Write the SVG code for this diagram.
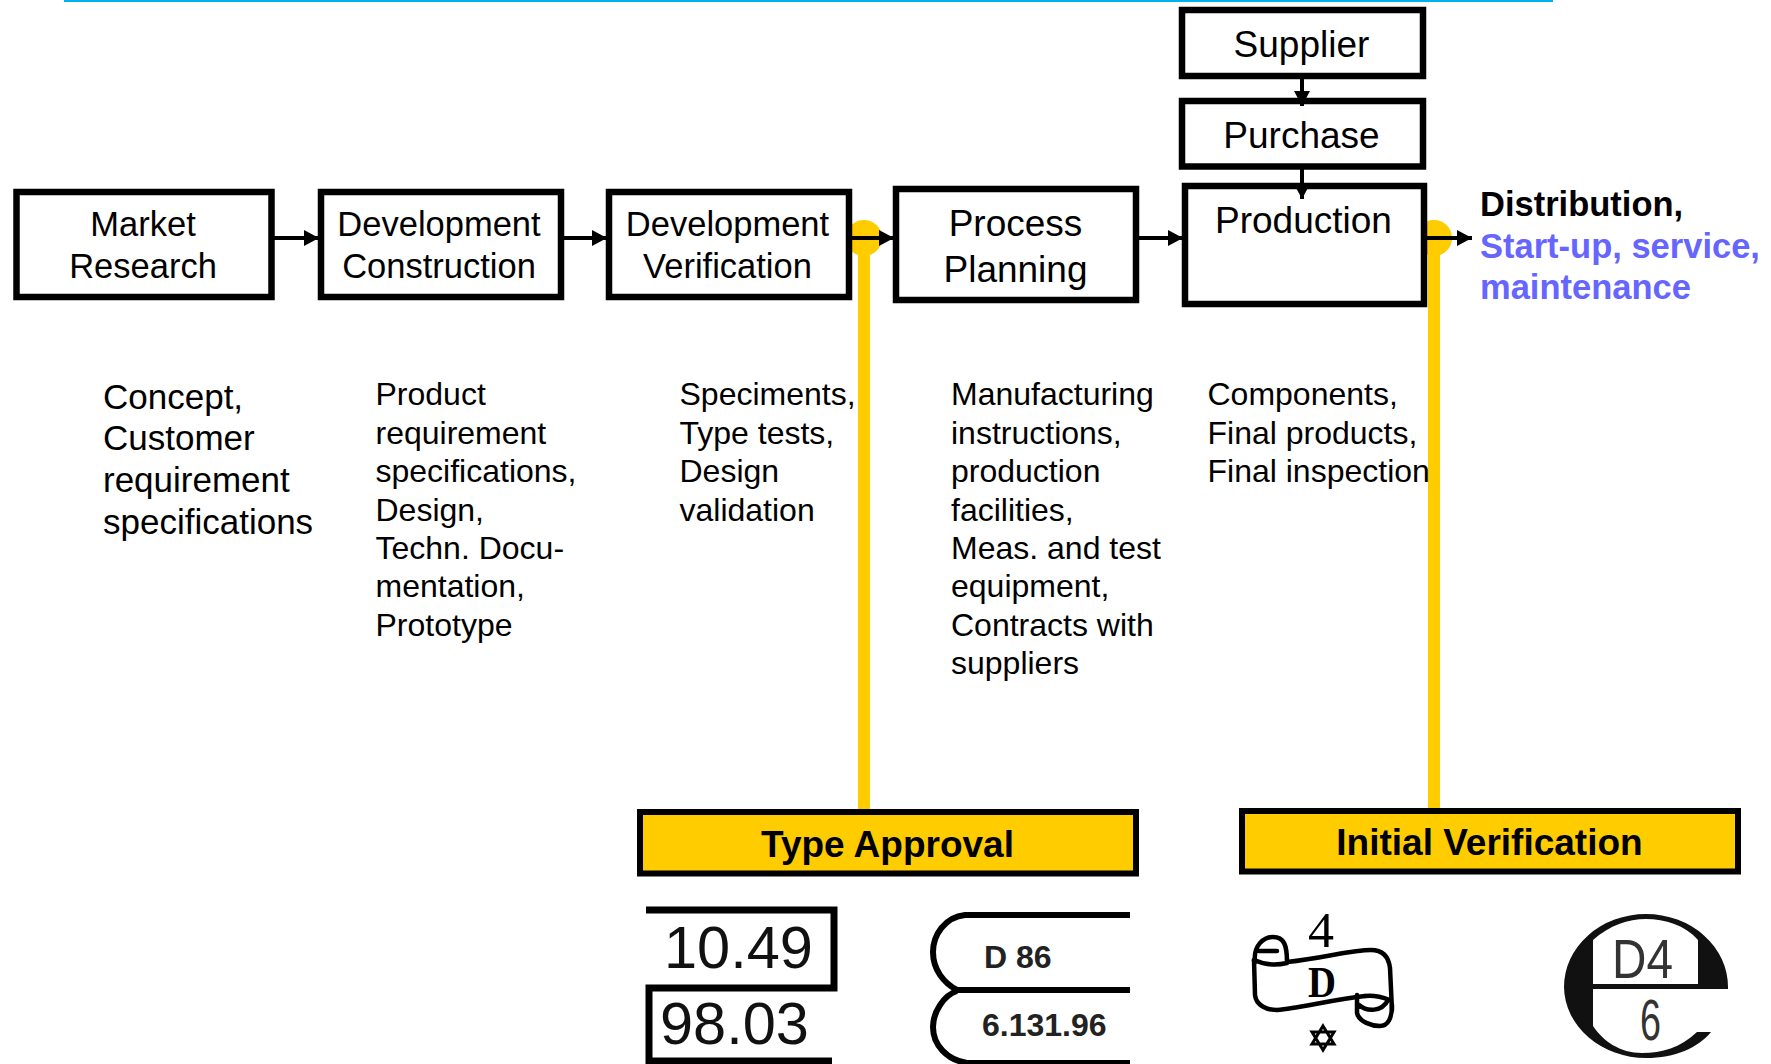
<svg xmlns="http://www.w3.org/2000/svg" width="1771" height="1064" viewBox="0 0 1771 1064">
<style>
text{font-family:"Liberation Sans",Arial,sans-serif;fill:#000}
.box{fill:#fff;stroke:#000;stroke-width:6.5}
.n{font-size:34.5px;text-anchor:middle}
.n37{font-size:37px;text-anchor:middle}
.d{font-size:32px}
.d35{font-size:35px}
.b{font-size:34.5px;font-weight:bold}
.blue{fill:#6666FF}
.y{fill:#FFCC00}
.ybox{fill:#FFCC00;stroke:#000;stroke-width:6}
.t{font-size:37px;font-weight:bold;text-anchor:middle}
.c{fill:none;stroke:#000;stroke-width:4}
.ink{fill:none;stroke:#000;stroke-width:4.5;stroke-linecap:round;stroke-linejoin:round}
.ink6{fill:none;stroke:#000;stroke-width:6}
.st{font-size:59.500px;fill:#111}
.sb{font-size:32px;font-weight:bold;fill:#222}
</style>
<defs>
<marker id="a" markerUnits="userSpaceOnUse" markerWidth="16" markerHeight="18" refX="15" refY="8" orient="auto"><path d="M0 0L15 8L0 16Z" fill="#000"/></marker>
</defs>
<rect x="64" y="0" width="1489" height="2" fill="#00B0F0"/>
<g id="approval-lines">
<rect class="y" x="858" y="238" width="12" height="574"/>
<circle class="y" cx="864" cy="238" r="18"/>
<rect class="y" x="1428" y="238" width="12" height="572"/>
<circle class="y" cx="1434" cy="238" r="18"/>
</g>
<g id="market"><rect class="box" x="16.500" y="192" width="255" height="105"/><text class="n" x="143" y="236">Market</text><text class="n" x="143" y="278">Research</text></g>
<g id="construction"><rect class="box" x="321" y="192" width="240" height="105"/><text class="n" x="439" y="236">Development</text><text class="n" x="439" y="278">Construction</text></g>
<g id="verification"><rect class="box" x="609" y="192" width="240" height="105"/><text class="n" x="727.500" y="236">Development</text><text class="n" x="727.500" y="278">Verification</text></g>
<g id="planning"><rect class="box" x="896" y="189" width="240" height="111"/><text class="n37" x="1015.500" y="236">Process</text><text class="n37" x="1015.500" y="282">Planning</text></g>
<g id="supplier"><rect class="box" x="1182" y="10" width="241" height="66"/><text class="n37" x="1301.500" y="57">Supplier</text></g>
<g id="purchase"><rect class="box" x="1182" y="101" width="241" height="65.500"/><text class="n37" x="1301.500" y="148">Purchase</text></g>
<g id="production"><rect class="box" x="1185" y="186" width="239" height="118"/><text class="n37" x="1303.500" y="233">Production</text></g>
<g id="connectors">
<path class="c" marker-end="url(#a)" d="M274 238H319"/>
<path class="c" marker-end="url(#a)" d="M562 238H607"/>
<path class="c" marker-end="url(#a)" d="M851 238H894"/>
<path class="c" marker-end="url(#a)" d="M1138 238H1183"/>
<path class="c" marker-end="url(#a)" d="M1427 238H1472"/>
<path class="c" marker-end="url(#a)" d="M1302 79V106"/>
<path class="c" marker-end="url(#a)" d="M1302 169V199"/>
</g>
<g id="desc-market"><text class="d35" x="103" y="408.500">Concept,</text><text class="d35" x="103" y="450">Customer</text><text class="d35" x="103" y="491.500">requirement</text><text class="d35" x="103" y="533.500">specifications</text></g>
<g id="desc-construction"><text class="d" x="375.500" y="405">Product</text><text class="d" x="375.500" y="444">requirement</text><text class="d" x="375.500" y="482">specifications,</text><text class="d" x="375.500" y="521">Design,</text><text class="d" x="375.500" y="559">Techn. Docu-</text><text class="d" x="375.500" y="597">mentation,</text><text class="d" x="375.500" y="636">Prototype</text></g>
<g id="desc-verification"><text class="d" x="679.500" y="405">Speciments,</text><text class="d" x="679.500" y="444">Type tests,</text><text class="d" x="679.500" y="482">Design</text><text class="d" x="679.500" y="521">validation</text></g>
<g id="desc-planning"><text class="d" x="951" y="405">Manufacturing</text><text class="d" x="951" y="444">instructions,</text><text class="d" x="951" y="482">production</text><text class="d" x="951" y="521">facilities,</text><text class="d" x="951" y="559">Meas. and test</text><text class="d" x="951" y="597">equipment,</text><text class="d" x="951" y="636">Contracts with</text><text class="d" x="951" y="674">suppliers</text></g>
<g id="desc-production"><text class="d" x="1207.500" y="405">Components,</text><text class="d" x="1207.500" y="444">Final products,</text><text class="d" x="1207.500" y="482">Final inspection</text></g>
<g id="distribution"><text class="b" x="1480" y="216">Distribution,</text><text class="b blue" x="1480" y="258">Start-up, service,</text><text class="b blue" x="1480" y="299">maintenance</text></g>
<g id="type-approval"><rect class="ybox" x="640" y="812" width="496" height="61.500"/><text class="t" x="887.500" y="857">Type Approval</text></g>
<g id="initial-verification"><rect class="ybox" x="1242" y="811" width="496" height="60.500"/><text class="t" x="1489.500" y="855">Initial Verification</text></g>
<g id="stamp-date">
<path class="ink6" style="stroke-width:7" d="M646 910H834V988H649V1064M646 1061H832"/>
<text class="st" x="664" y="968">10.49</text>
<text class="st" x="660" y="1044">98.03</text>
</g>
<g id="stamp-d86">
<path class="ink6" d="M1130 915H965C945 917 933 935 933 952C933 970 944 983 957 990H1130M957 991C944 995 933 1012 933 1027C933 1045 947 1060 967 1063H1130"/>
<text class="sb" x="984" y="968">D 86</text>
<text class="sb" x="982" y="1036">6.131.96</text>
</g>
<g id="stamp-scroll">
<path class="ink" d="M1287 962C1325 958 1350 950 1371 950C1385 950 1389 960 1390 968L1392 1010"/>
<path class="ink" d="M1254 960L1255 995C1256 1005 1266 1010 1277 1010C1300 1008 1330 1000 1365 996"/>
<path class="ink" d="M1255 962C1253 945 1264 937 1273 937C1284 937 1287 945 1287 962M1259 951H1277M1254 960C1267 966 1278 965 1287 963"/>
<path class="ink" d="M1357 995V1013C1359 1022 1372 1026 1380 1026C1388 1026 1392 1018 1392 1005M1359 1005C1367 1012 1382 1012 1388 1000M1365 996C1372 995 1382 997 1390 1000"/>
<text x="1308" y="947" textLength="26" lengthAdjust="spacingAndGlyphs" style="font-family:'Liberation Serif',serif;font-size:50px">4</text>
<text x="1308" y="997" textLength="28" lengthAdjust="spacingAndGlyphs" style="font-family:'Liberation Serif',serif;font-size:44px;font-weight:bold">D</text>
<path fill="none" stroke="#000" stroke-width="3" d="M1323 1026L1334 1044H1312ZM1323 1050L1312 1032H1334Z"/>
</g>
<g id="stamp-circle">
<path fill="#111" fill-rule="evenodd" d="M1728 987A82 73 0 0 0 1564 987A82 72 0 0 0 1646 1058C1675 1058 1698 1048 1711 1032L1697 1032C1680 1048 1662 1053 1642 1053C1620 1053 1603 1041 1593 1026L1593 989L1728 989ZM1593 984L1593 940C1610 925 1628 919 1646 919C1665 919 1685 925 1698 940L1698 984Z"/>
<text x="1612" y="978" textLength="61" lengthAdjust="spacingAndGlyphs" style="font-family:'Liberation Sans',sans-serif;font-size:55px;fill:#333">D4</text>
<text x="1640" y="1040" textLength="21" lengthAdjust="spacingAndGlyphs" style="font-family:'Liberation Sans',sans-serif;font-size:57px;fill:#333">6</text>
</g>
</svg>
